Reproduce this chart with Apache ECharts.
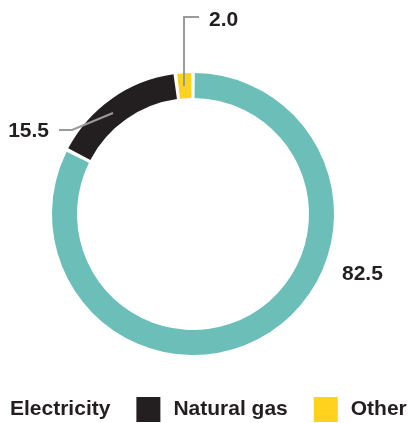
<!DOCTYPE html>
<html>
<head>
<meta charset="utf-8">
<script src="https://cdn.jsdelivr.net/npm/echarts@6/dist/echarts.min.js"></script>
<style>
  html, body { margin: 0; padding: 0; background: #fff; }
  #chart { width: 409px; height: 423px; }
</style>
</head>
<body>
<div id="chart"></div>
<script>
var categories = ['Electricity', 'Natural gas', 'Other'];
var values = [82.5, 15.5, 2.0];
var colors = ['#6cbfb8', '#231f20', '#ffd21f'];

// where each label sits (annotation placement, not data)
var labelSpots = [
	{ x: 342, y: 274, align: 'left' },
	{ x: 49, y: 131, align: 'right', line: [[113, 113], [72, 130], [59, 130]] },
	{ x: 209, y: 20, align: 'left', line: [[184, 86], [184, 17], [199, 17]] }
];

var ringData = categories.map(function(name, i) {
	return { name: name, value: values[i], itemStyle: { color: colors[i] } };
});

// same slices again, invisible, so the labels and their lines sit on top of the ring
var labelData = categories.map(function(name, i) {
	return { name: name, value: values[i], labelLine: { show: i !== 0 } };
});

var pieBase = {
	type: 'pie',
	center: [193, 214],
	radius: [116, 141],
	startAngle: 90,
	clockwise: true,
	padAngle: 1.5,
	emphasis: { disabled: true }
};

var option = {
	animation: false,
	legend: {
		left: -27,
		top: 397,
		padding: 0,
		itemWidth: 24,
		itemHeight: 25,
		itemGap: 26,
		icon: 'rect',
		data: categories,
		textStyle: {
			fontFamily: 'Liberation Sans, Arial, sans-serif',
			fontSize: 21,
			fontWeight: 'bold',
			color: '#231f20',
			padding: [0, 0, 0, 8]
		}
	},
	series: [
		Object.assign({}, pieBase, {
			z: 2,
			label: { show: false },
			labelLine: { show: false },
			data: ringData
		}),
		Object.assign({}, pieBase, {
			z: 5,
			silent: true,
			legendHoverLink: false,
			itemStyle: { color: 'rgba(0,0,0,0)' },
			label: {
				show: true,
				position: 'outside',
				formatter: function(p) { return p.value.toFixed(1); },
				fontFamily: 'Liberation Sans, Arial, sans-serif',
				fontSize: 21,
				fontWeight: 'bold',
				color: '#231f20'
			},
			labelLine: {
				show: true,
				lineStyle: { color: '#9a9a9a', width: 2, opacity: 1 }
			},
			labelLayout: function(params) {
				var s = labelSpots[params.dataIndex];
				var out = { x: s.x, y: s.y, align: s.align, verticalAlign: 'middle' };
				if (s.line) out.labelLinePoints = s.line;
				return out;
			},
			data: labelData
		})
	]
};

var chart = echarts.init(document.getElementById('chart'));
chart.setOption(option);
</script>
</body>
</html>
